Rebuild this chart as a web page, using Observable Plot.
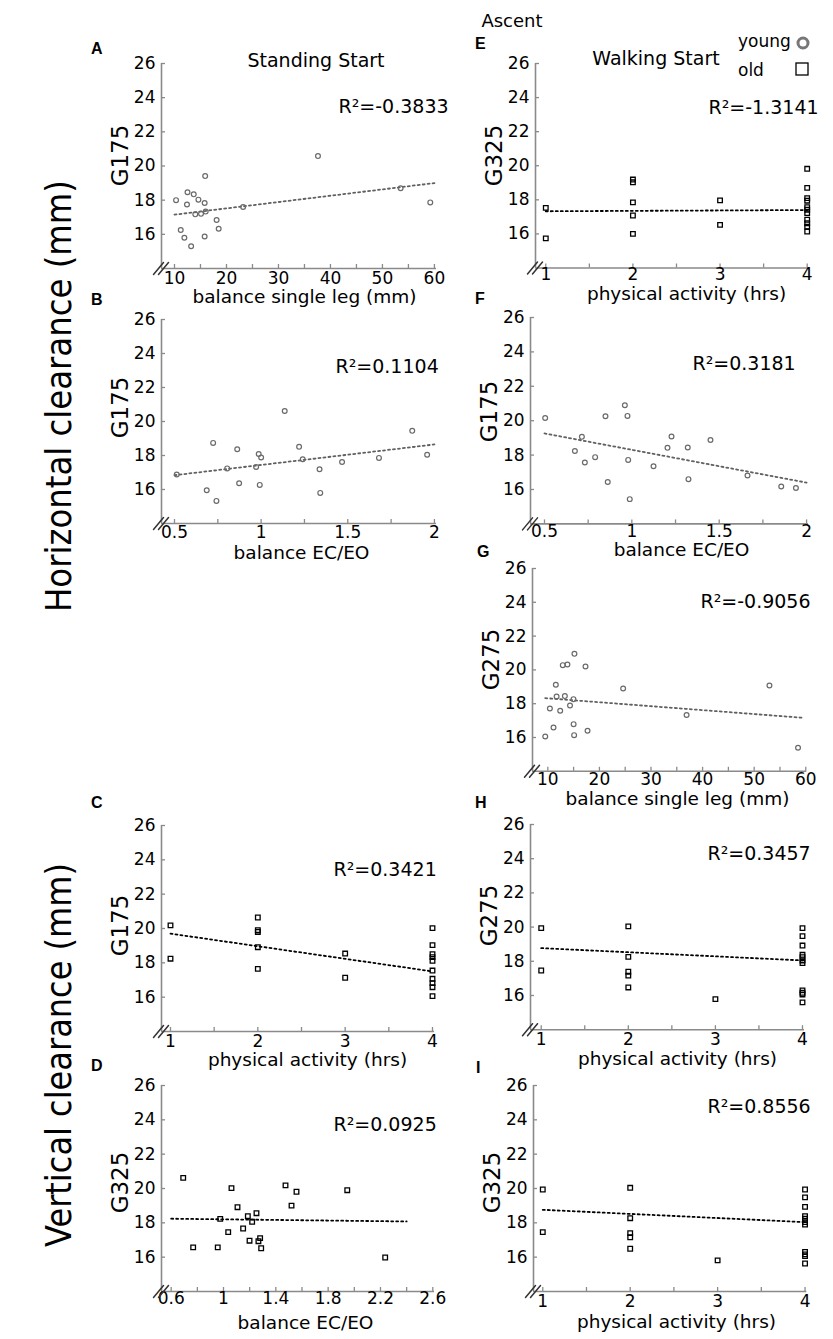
<!DOCTYPE html>
<html><head><meta charset="utf-8">
<script src="https://cdn.jsdelivr.net/npm/d3@7"></script>
<script src="https://cdn.jsdelivr.net/npm/@observablehq/plot@0.6"></script>
<style>
html,body{margin:0;padding:0;background:#fff;}
#root{position:relative;width:833px;height:1339px;overflow:hidden;font-family:"DejaVu Sans",sans-serif;background:#fff;}
#root svg{position:absolute;overflow:visible;}
</style></head><body><div id="root"></div>
<script>
// ---------- data ----------
const yTicks = [16, 18, 20, 22, 24, 26];
const legTicks = [10, 15, 20, 25, 30, 35, 40, 45, 50, 55, 60];
const legLabels = [10, 20, 30, 40, 50, 60];
const ecTicks = [0.5, 0.75, 1, 1.25, 1.5, 1.75, 2];
const ecLabels = [0.5, 1, 1.5, 2];
const ecTicksD = [0.6, 0.8, 1, 1.2, 1.4, 1.6, 1.8, 2, 2.2, 2.4, 2.6];
const ecLabelsD = [0.6, 1, 1.4, 1.8, 2.2, 2.6];
const paTicks = [1, 1.5, 2, 2.5, 3, 3.5, 4];
const paLabels = [1, 2, 3, 4];

// A: young, balance single leg vs G175
const aX = [10.3, 11.2, 11.9, 12.5, 12.4, 13.2, 13.7, 14.0, 14.6, 15.1, 15.8, 16.0, 15.9, 15.8, 18.1, 18.5, 23.2, 37.6, 53.5, 59.2];
const aY = [18.0, 16.25, 15.8, 18.46, 17.75, 15.3, 18.34, 17.17, 18.03, 17.2, 17.83, 17.33, 19.41, 15.87, 16.84, 16.33, 17.6, 20.58, 18.7, 17.87];
const aFit = [[10, 17.15], [60, 19.0]];
// B: young, balance EC/EO vs G175
const bX = [0.513, 0.686, 0.723, 0.742, 0.804, 0.862, 0.873, 0.971, 0.986, 1.0, 0.992, 1.136, 1.219, 1.24, 1.337, 1.341, 1.467, 1.68, 1.872, 1.958];
const bY = [16.88, 15.96, 18.74, 15.33, 17.24, 18.37, 16.37, 17.33, 18.09, 17.88, 16.27, 20.62, 18.51, 17.78, 17.19, 15.8, 17.62, 17.86, 19.45, 18.04];
const bFit = [[0.5, 16.84], [2, 18.65]];
// C: old, physical activity vs G175
const cX = [1, 1, 2, 2, 2, 2, 2, 3, 3, 4, 4, 4, 4, 4, 4, 4, 4, 4, 4];
const cY = [20.18, 18.24, 20.64, 19.9, 19.8, 18.91, 17.65, 18.54, 17.13, 20.02, 19.03, 18.5, 18.33, 18.12, 17.55, 17.07, 16.82, 16.58, 16.06];
const cFit = [[1, 19.7], [4, 17.5]];
// D: old, balance EC/EO vs G325
const dX = [0.692, 0.768, 0.956, 0.975, 1.036, 1.061, 1.107, 1.15, 1.186, 1.199, 1.219, 1.252, 1.267, 1.28, 1.288, 1.474, 1.52, 1.558, 1.946, 2.236];
const dY = [20.62, 16.57, 16.57, 18.23, 17.46, 20.02, 18.91, 17.67, 18.39, 16.96, 18.06, 18.56, 16.93, 17.11, 16.52, 20.18, 19.0, 19.81, 19.9, 15.98];
const dFit = [[0.6, 18.24], [2.4, 18.08]];
// E: old, physical activity vs G325
const eX = [1, 1, 2, 2, 2, 2, 2, 3, 3, 4, 4, 4, 4, 4, 4, 4, 4, 4, 4, 4];
const eY = [17.53, 15.74, 19.19, 19.03, 17.85, 17.08, 16.0, 17.97, 16.53, 19.82, 18.7, 18.1, 17.95, 17.57, 17.42, 17.22, 16.83, 16.63, 16.43, 16.14];
const eFit = [[1, 17.33], [4, 17.4]];
// F: young, balance EC/EO vs G175
const fX = [0.504, 0.674, 0.714, 0.731, 0.79, 0.849, 0.862, 0.96, 0.975, 0.979, 0.988, 1.124, 1.204, 1.227, 1.32, 1.324, 1.45, 1.662, 1.855, 1.939];
const fY = [20.16, 18.24, 19.06, 17.57, 17.88, 20.26, 16.44, 20.9, 20.28, 17.72, 15.44, 17.35, 18.42, 19.08, 18.44, 16.6, 18.88, 16.81, 16.17, 16.09];
const fFit = [[0.5, 19.26], [2, 16.4]];
// G: young, balance single leg vs G275
const gX = [9.5, 10.4, 11.1, 11.55, 11.7, 12.4, 12.9, 13.3, 13.8, 14.3, 14.97, 15.16, 15.0, 15.1, 17.3, 17.7, 24.6, 36.9, 52.96, 58.5];
const gY = [16.06, 17.72, 16.59, 19.12, 18.43, 17.58, 20.28, 18.45, 20.32, 17.89, 18.27, 20.95, 16.79, 16.14, 20.2, 16.4, 18.9, 17.33, 19.08, 15.39];
const gFit = [[9.5, 18.33], [59.3, 17.17]];
// H: old, physical activity vs G275
const hX = [1, 1, 2, 2, 2, 2, 2, 3, 4, 4, 4, 4, 4, 4, 4, 4, 4, 4, 4];
const hY = [19.94, 17.46, 20.04, 18.26, 17.39, 17.16, 16.47, 15.79, 19.94, 19.47, 18.92, 18.38, 18.24, 18.05, 17.9, 16.3, 16.16, 16.06, 15.6];
const hFit = [[1, 18.77], [4, 18.05]];
// I: old, physical activity vs G325
const iX = [1, 1, 2, 2, 2, 2, 2, 3, 4, 4, 4, 4, 4, 4, 4, 4, 4, 4, 4];
const iY = [19.94, 17.46, 20.04, 18.27, 17.4, 17.16, 16.49, 15.81, 19.94, 19.48, 18.93, 18.39, 18.24, 18.04, 17.9, 16.3, 16.16, 16.06, 15.63];
const iFit = [[1, 18.76], [4, 18.04]];

const r2Labels = {A: "R²=-0.3833", B: "R²=0.1104", C: "R²=0.3421", D: "R²=0.0925", E: "R²=-1.3141", F: "R²=0.3181", G: "R²=-0.9056", H: "R²=0.3457", I: "R²=0.8556"};

// ---------- layout ----------
const ML = 70, MR = 30, MT = 30, MB = 50;
const axisGray = "#8a8a8a";
const root = document.getElementById("root");
const fmt = d => String(d);
const breakShape = {draw(ctx) { ctx.moveTo(-8, 6); ctx.lineTo(2, -6); ctx.moveTo(-3, 6); ctx.lineTo(7, -6); }};

const panels = [
  {id: "A", axisX: 161, right: 436, top: 63, bottom: 268, xDomain: [7.5, 60.4], xTicks: legTicks, xLabels: legLabels, xs: aX, ys: aY, fit: aFit, group: "young", yLabel: "G175", xLabel: "balance single leg (mm)", r2Dx: 177, r2Dy: 49, yTitleDy: 92, xlDx: 143, xlDy: 34, tickPad: 3},
  {id: "B", axisX: 161, right: 436, top: 319.3, bottom: 523.3, xDomain: [0.425, 2.012], xTicks: ecTicks, xLabels: ecLabels, xs: bX, ys: bY, fit: bFit, group: "young", yLabel: "G175", xLabel: "balance EC/EO", r2Dx: 174, r2Dy: 53, yTitleDy: 88, xlDx: 140, xlDy: 35, tickPad: 2},
  {id: "C", axisX: 161, right: 434, top: 825, bottom: 1031, xDomain: [0.897, 4.023], xTicks: paTicks, xLabels: paLabels, xs: cX, ys: cY, fit: cFit, group: "old", yLabel: "G175", xLabel: "physical activity (hrs)", r2Dx: 172, r2Dy: 50, yTitleDy: 100, xlDx: 146, xlDy: 34, tickPad: 3},
  {id: "D", axisX: 161, right: 434, top: 1085, bottom: 1291, xDomain: [0.526, 2.613], xTicks: ecTicksD, xLabels: ecLabelsD, xs: dX, ys: dY, fit: dFit, group: "old", yLabel: "G325", xLabel: "balance EC/EO", r2Dx: 172, r2Dy: 45, yTitleDy: 97, xlDx: 144, xlDy: 37, tickPad: 0},
  {id: "E", axisX: 535, right: 808, top: 63, bottom: 267.5, xDomain: [0.882, 4.015], xTicks: paTicks, xLabels: paLabels, xs: eX, ys: eY, fit: eFit, group: "old", yLabel: "G325", xLabel: "physical activity (hrs)", r2Dx: 173, r2Dy: 50, yTitleDy: 92, xlDx: 151, xlDy: 32, tickPad: 0},
  {id: "F", axisX: 530, right: 808, top: 317.3, bottom: 523.7, xDomain: [0.42, 2.011], xTicks: ecTicks, xLabels: ecLabels, xs: fX, ys: fY, fit: fFit, group: "young", yLabel: "G175", xLabel: "balance EC/EO", r2Dx: 162, r2Dy: 53, yTitleDy: 94, xlDx: 151, xlDy: 32, tickPad: 1},
  {id: "G", axisX: 531.7, right: 806, top: 567.7, bottom: 770.5, xDomain: [7.03, 60.2], xTicks: legTicks, xLabels: legLabels, xs: gX, ys: gY, fit: gFit, group: "young", yLabel: "G275", xLabel: "balance single leg (mm)", r2Dx: 168, r2Dy: 40, yTitleDy: 91, xlDx: 145, xlDy: 34, tickPad: 2},
  {id: "H", axisX: 530, right: 804, top: 824, bottom: 1029.2, xDomain: [0.877, 4.023], xTicks: paTicks, xLabels: paLabels, xs: hX, ys: hY, fit: hFit, group: "old", yLabel: "G275", xLabel: "physical activity (hrs)", r2Dx: 177, r2Dy: 36, yTitleDy: 91, xlDx: 147, xlDy: 35, tickPad: 3},
  {id: "I", axisX: 532.7, right: 806, top: 1085, bottom: 1291, xDomain: [0.894, 4.02], xTicks: paTicks, xLabels: paLabels, xs: iX, ys: iY, fit: iFit, group: "old", yLabel: "G325", xLabel: "physical activity (hrs)", r2Dx: 174, r2Dy: 28, yTitleDy: 97, xlDx: 143, xlDy: 37, tickPad: 3}
];

function panel(p) {
  const fw = p.right - p.axisX, fh = p.bottom - p.top;
  const young = p.group === "young";
  const data = p.xs.map((x, i) => ({x, y: p.ys[i]}));
  const fit = p.fit.map(([x, y]) => ({x, y}));
  const lineColor = young ? "#606060" : "#000";
  const dots = young
    ? Plot.dot(data, {x: "x", y: "y", r: 2.4, stroke: "#6a6a6a", strokeWidth: 1.2, fill: "none"})
    : Plot.dot(data, {x: "x", y: "y", r: 2.6, symbol: "square", stroke: "#000", strokeWidth: 1.3, fill: "none"});
  const svg = Plot.plot({
    width: fw + ML + MR, height: fh + MT + MB,
    marginLeft: ML, marginRight: MR, marginTop: MT, marginBottom: MB,
    x: {domain: p.xDomain, label: null},
    y: {domain: [14, 26], label: null},
    style: {background: "transparent", fontFamily: "DejaVu Sans, sans-serif", overflow: "visible"},
    marks: [
      Plot.ruleX([p.xDomain[0]], {stroke: axisGray, strokeWidth: 1.6}),
      Plot.ruleY([14], {stroke: axisGray, strokeWidth: 1.6}),
      Plot.axisY({ticks: yTicks, tickSize: -4, stroke: axisGray, strokeWidth: 1.3, tickFormat: () => "", label: null}),
      Plot.axisY({ticks: yTicks, tickSize: 0, tickPadding: 6, fontSize: 17, fill: "#000", tickFormat: fmt, label: null}),
      Plot.axisX({ticks: p.xTicks, tickSize: -4, stroke: axisGray, strokeWidth: 1.3, tickFormat: () => "", label: null}),
      Plot.axisX({ticks: p.xLabels, tickSize: 0, tickPadding: p.tickPad, fontSize: 17, fill: "#000", tickFormat: fmt, label: null}),
      Plot.vector([0], {frameAnchor: "bottom-left", length: 10, anchor: "start", shape: breakShape, stroke: "#333", strokeWidth: 1.5}),
      Plot.line(fit, {x: "x", y: "y", stroke: lineColor, strokeWidth: 1.8, strokeDasharray: "2 3"}),
      dots,
      Plot.text([r2Labels[p.id]], {frameAnchor: "top-left", dx: p.r2Dx, dy: p.r2Dy, textAnchor: "start", lineAnchor: "bottom", fontSize: 19, fill: "#000"}),
      Plot.text([p.yLabel], {frameAnchor: "top-left", dx: -41, dy: p.yTitleDy, rotate: -90, textAnchor: "middle", lineAnchor: "middle", fontSize: 23, fill: "#000"}),
      Plot.text([p.xLabel], {frameAnchor: "bottom-left", dx: p.xlDx, dy: p.xlDy, textAnchor: "middle", lineAnchor: "bottom", fontSize: 18.5, fill: "#000"})
    ]
  });
  svg.style.position = "absolute";
  svg.style.left = (p.axisX - ML) + "px";
  svg.style.top = (p.top - MT) + "px";
  svg.style.maxWidth = "none";
  root.appendChild(svg);
}
panels.forEach(panel);

// ---------- overlay annotations ----------
const ov = d3.select(root).append("svg")
  .attr("width", 833).attr("height", 1339)
  .style("left", "0px").style("top", "0px")
  .attr("font-family", "DejaVu Sans, sans-serif");

const headings = [
  {t: "Ascent", x: 512, y: 27, s: 18},
  {t: "Standing Start", x: 316, y: 67, s: 19},
  {t: "Walking Start", x: 656, y: 65, s: 19}
];
headings.forEach(h => ov.append("text").attr("x", h.x).attr("y", h.y).attr("text-anchor", "middle").attr("font-size", h.s).attr("fill", "#000").text(h.t));

ov.append("text").attr("x", 738).attr("y", 47).attr("font-size", 17).text("young");
ov.append("text").attr("x", 738).attr("y", 76).attr("font-size", 17).text("old");
ov.append("circle").attr("cx", 803).attr("cy", 43).attr("r", 5).attr("fill", "none").attr("stroke", "#777").attr("stroke-width", 3);
ov.append("rect").attr("x", 796).attr("y", 63).attr("width", 12).attr("height", 12).attr("fill", "none").attr("stroke", "#000").attr("stroke-width", 1.3);

const bigLabels = [
  {t: "Horizontal clearance (mm)", x: 71, y: 396, len: 432},
  {t: "Vertical clearance (mm)", x: 71, y: 1055, len: 384}
];
bigLabels.forEach(b => ov.append("text")
  .attr("transform", `translate(${b.x},${b.y}) rotate(-90)`)
  .attr("text-anchor", "middle").attr("font-size", 36)
  .attr("textLength", b.len).attr("lengthAdjust", "spacingAndGlyphs")
  .attr("fill", "#000").text(b.t));

const letters = [
  {t: "A", x: 91, y: 54}, {t: "B", x: 91, y: 305}, {t: "C", x: 91, y: 808}, {t: "D", x: 91, y: 1071},
  {t: "E", x: 475, y: 49}, {t: "F", x: 475, y: 304}, {t: "G", x: 477, y: 557}, {t: "H", x: 475, y: 808}, {t: "I", x: 476, y: 1073}
];
letters.forEach(l => ov.append("text").attr("x", l.x).attr("y", l.y)
  .style("font-family", "'Liberation Sans', Arial, sans-serif").style("font-weight", "bold")
  .style("font-size", "16px").attr("fill", "#000").text(l.t));
</script></body></html>
